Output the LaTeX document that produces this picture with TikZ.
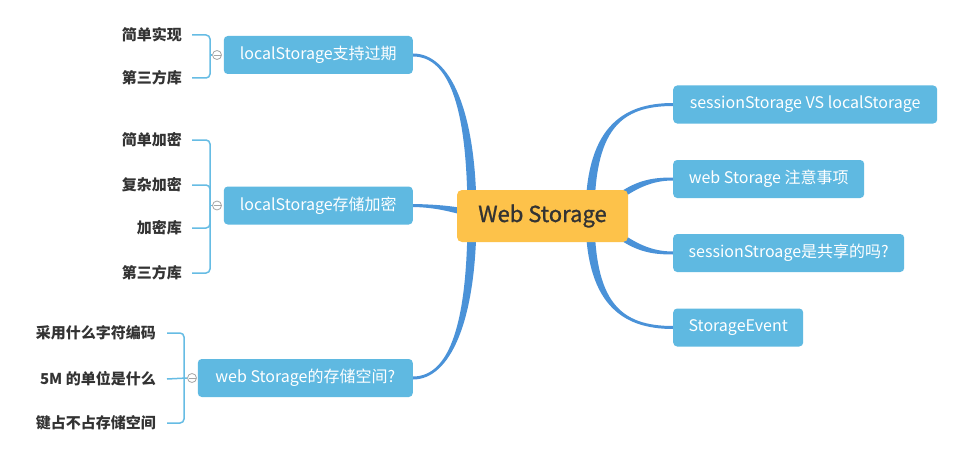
\documentclass[tikz,border=0pt]{standalone}
\usepackage{fontspec}
\setmainfont{Noto Sans CJK SC}
\newfontfamily\rootfont[FakeBold=1.2]{Noto Sans CJK SC}
\usetikzlibrary{calc}
\pgfdeclarelayer{background}
\pgfsetlayers{background,main}
\definecolor{nodeblue}{HTML}{5FB9E1}
\definecolor{linkblue}{HTML}{4A92D8}
\definecolor{brblue}{HTML}{66BCE4}
\definecolor{rootorange}{HTML}{FDC24A}
\definecolor{txt}{HTML}{333333}
\newcommand{\taperfill}[6]{%
  \fill[linkblue] ($#1+(#5)$) .. controls ($#2+(#5)$) and ($#3+(#6)$) .. ($#4+(#6)$)
    -- ($#4-(#6)$) .. controls ($#3-(#6)$) and ($#2-(#5)$) .. ($#1-(#5)$) -- cycle;}
\begin{document}
\begin{tikzpicture}[x=1pt,y=-1pt,
  topic/.style={fill=nodeblue,text=white,rounded corners=4pt,minimum height=38pt,
    inner xsep=0pt,inner ysep=0pt,font=\fontsize{16}{19}\selectfont},
  leaf/.style={anchor=east,text=txt,inner sep=0pt,font=\fontsize{15}{18}\selectfont\bfseries},
  bracket/.style={draw=brblue,line width=1.5pt,rounded corners=4pt},
  toggle/.style={circle,draw=gray!70,fill=white,line width=0.8pt,minimum size=9pt,inner sep=0pt,
    path picture={\draw[gray!70,line width=0.8pt] ([xshift=-3.5pt]path picture bounding box.center) -- ([xshift=3.5pt]path picture bounding box.center);}}]
\useasboundingbox (0,0) rectangle (970,452);

% root
\node[fill=rootorange,text=txt,rounded corners=5pt,minimum width=171pt,minimum height=52pt,
  inner sep=0pt,font=\fontsize{22}{26}\rootfont] (c) at (542.5,216) {Web Storage};
\coordinate (rl) at (472,216);
\coordinate (rr) at (590,216);

% right topics
\node[topic,anchor=west,minimum width=264pt] (r1) at (673,104.5) {sessionStorage VS localStorage};
\node[topic,anchor=west,minimum width=191pt] (r2) at (673,179) {web Storage 注意事项};
\node[topic,anchor=west,minimum width=231pt] (r3) at (673,253) {sessionStroage是共享的吗?};
\node[topic,anchor=west,minimum width=130pt] (r4) at (673,327.5) {StorageEvent};

% left topics
\node[topic,anchor=east,minimum width=189pt] (l1) at (413,55) {localStorage支持过期};
\node[topic,anchor=east,minimum width=189pt] (l2) at (413,205.5) {localStorage存储加密};
\node[topic,anchor=east,minimum width=215pt] (l3) at (413,378) {web Storage的存储空间?};

% leaves
\node[leaf] (a1) at (182,35) {简单实现};
\node[leaf] (a2) at (182,78) {第三方库};
\node[leaf] (b1) at (182,140) {简单加密};
\node[leaf] (b2) at (182,185) {复杂加密};
\node[leaf] (b3) at (182,228) {加密库};
\node[leaf] (b4) at (182,273) {第三方库};
\node[leaf] (d1) at (156,333) {采用什么字符编码};
\node[leaf] (d2) at (156,379) {5M 的单位是什么};
\node[leaf] (d3) at (156,423) {键占不占存储空间};

% toggles
\node[toggle] (t1) at (217,55) {};
\node[toggle] (t2) at (217,205.5) {};
\node[toggle] (t3) at (192,378) {};

% brackets
\draw[bracket] ([xshift=10pt]a1.east) -| (210,55) |- ([xshift=10pt]a2.east);
\draw[brblue,line width=1.5pt] (210,55) -- (t1.west);
\draw[bracket] ([xshift=10pt]b1.east) -| (210,205.5) |- ([xshift=10pt]b4.east);
\draw[bracket] ([xshift=10pt]b2.east) -| (210,205.5);
\draw[bracket] ([xshift=10pt]b3.east) -| (210,205.5);
\draw[brblue,line width=1.5pt] (210,205.5) -- (t2.west);
\draw[bracket] ([xshift=11pt]d1.east) -| (184,378) |- ([xshift=11pt]d3.east);
\draw[brblue,line width=1.5pt] ([xshift=11pt]d2.east) -- (t3.west);

% main branches
\begin{pgfonlayer}{background}
\fill[white] (0,0) rectangle (970,452);
\taperfill{(l1.east)}{(450,55)}{(472,110)}{(rl)}{0,-1.5}{4.5,0}
\taperfill{(l3.east)}{(450,378)}{(472,322)}{(rl)}{0,1.5}{4.5,0}
\taperfill{(l2.east)}{(440,206)}{(455,210)}{(470,213)}{0,-1.5}{0,-3.5}
\taperfill{(r1.west)}{(620,104.5)}{(590,130)}{(rr)}{0,-1.5}{-4.5,0}
\taperfill{(r4.west)}{(620,327.5)}{(590,302)}{(rr)}{0,1.5}{-4.5,0}
\taperfill{(r2.west)}{(652,179)}{(635,184)}{(612,202)}{0,-1.5}{0,-4}
\taperfill{(r3.west)}{(652,253)}{(635,248)}{(612,230)}{0,1.5}{0,4}
\end{pgfonlayer}
\end{tikzpicture}
\end{document}
